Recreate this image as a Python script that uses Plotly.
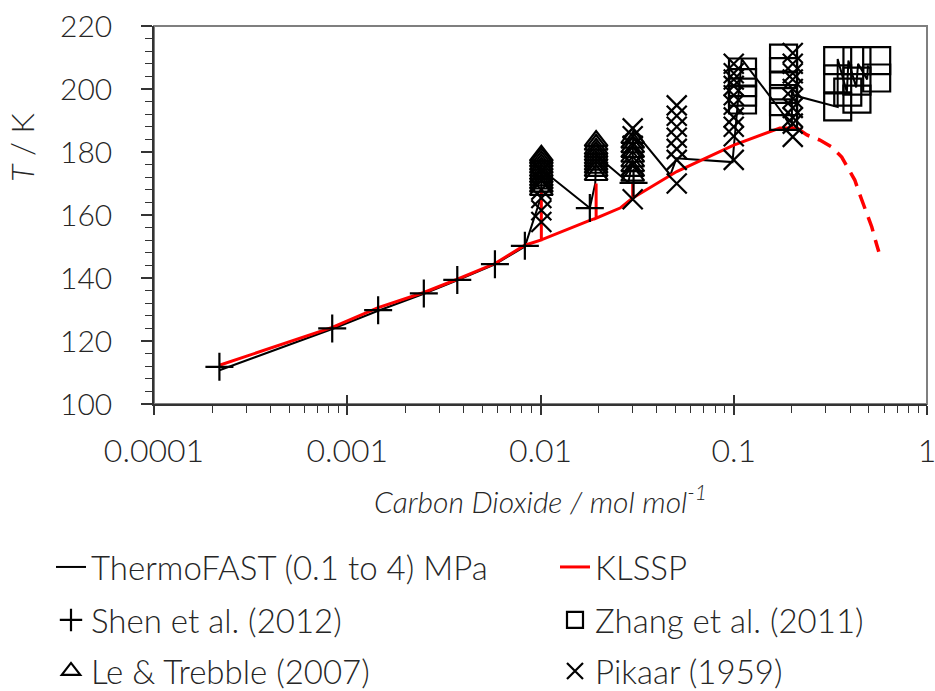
import plotly.graph_objects as go

# ---------------- data ----------------
# ThermoFAST (0.1 to 4) MPa calculated line
tf_x = [0.000218, 0.000836, 0.001445, 0.00249, 0.00371, 0.00581, 0.0083,
        0.0101, 0.0101, 0.0180, 0.0192, 0.0194, 0.0285, 0.0300, 0.0302,
        0.0470, 0.0505, 0.0985, 0.103, 0.110, 0.177, 0.200, 0.200, 0.205,
        0.345, 0.345, 0.385, 0.392, 0.430, 0.440, 0.490, 0.495]
tf_y = [110.7, 123.8, 129.6, 135.0, 139.3, 144.3, 150.0,
        166.0, 174.5, 162.2, 170.0, 179.0, 170.3, 178.0, 187.0,
        172.7, 178.0, 176.8, 190.0, 209.5, 192.7, 187.5, 200.0, 198.0,
        194.3, 209.5, 199.0, 209.0, 200.5, 208.0, 203.0, 207.5]

# KLSSP (solid part)
kl_x = [0.000218, 0.000836, 0.001445, 0.00249, 0.00371, 0.00581, 0.0083,
        0.0101, 0.0101, 0.0101, 0.0180, 0.0194, 0.0194, 0.0194, 0.0258,
        0.0300, 0.0300, 0.0300, 0.0507, 0.100, 0.173, 0.212]
kl_y = [112.3, 124.3, 130.6, 135.4, 139.6, 144.6, 150.4,
        152.1, 168.5, 152.1, 158.3, 159.0, 170.0, 159.0, 162.2,
        165.4, 170.5, 165.4, 173.8, 182.2, 187.6, 187.6]
# KLSSP (dashed extrapolation)
kld_x = [0.212, 0.239, 0.279, 0.321, 0.362, 0.389, 0.423, 0.444, 0.471,
         0.494, 0.518, 0.544, 0.563]
kld_y = [187.6, 185.4, 183.8, 181.6, 178.4, 174.9, 171.1, 167.3, 163.2,
         159.4, 156.2, 151.4, 148.3]

# Shen et al. (2012)
shen_x = [0.000218, 0.000836, 0.001445, 0.00249, 0.00371, 0.00581, 0.0083,
          0.0180, 0.0303]
shen_y = [111.8, 124.0, 129.8, 135.1, 139.4, 144.4, 150.2, 162.2, 170.2]

# Zhang et al. (2011)
zhang_x = [0.111, 0.111, 0.111, 0.111,
           0.181, 0.181, 0.181, 0.181, 0.181,
           0.345, 0.345, 0.345, 0.434, 0.434, 0.434, 0.549, 0.549, 0.389]
zhang_y = [205.4, 202.0, 199.0, 196.5,
           209.8, 205.5, 201.0, 196.0, 191.3,
           209.0, 203.2, 194.3, 209.0, 202.5, 196.8, 209.0, 203.5, 199.0]

# Le & Trebble (2007)
le_x = [0.0101] * 12 + [0.0194] * 11 + [0.0300] * 9
le_y = [168.0, 169.0, 170.0, 171.0, 172.0, 173.0, 174.0, 175.0, 176.0, 177.0, 178.0, 178.8,
        172.7, 174.0, 175.0, 176.0, 177.0, 178.0, 179.0, 180.0, 181.0, 182.3, 183.5,
        172.5, 174.0, 175.5, 177.0, 178.5, 180.0, 181.5, 183.0, 184.5]

# Pikaar (1959)
pk_x = ([0.0101] * 6 + [0.0300] * 5 + [0.0507] * 7 + [0.100] * 10 + [0.202] * 10)
pk_y = ([157.8, 161.5, 165.4, 168.0, 171.0, 174.0,
         165.0, 176.0, 182.0, 185.0, 187.5,
         170.0, 177.5, 181.0, 184.5, 188.0, 191.5, 194.8,
         177.5, 185.0, 188.0, 191.0, 195.0, 198.0, 201.0, 203.0, 205.0, 208.0,
         184.8, 189.0, 191.0, 194.0, 197.0, 200.0, 203.0, 205.0, 208.0, 211.4])

x_tickvals = [0.0001, 0.001, 0.01, 0.1, 1]
x_ticktext = ["0.0001", "0.001", "0.01", "0.1", "1"]
y_tickvals = [100, 120, 140, 160, 180, 200, 220]

FONT = "Lato"
TXT = "#262626"
W = 300

fig = go.Figure()

fig.add_trace(go.Scatter(x=tf_x, y=tf_y, mode="lines", name="ThermoFAST (0.1 to 4) MPa",
                         line=dict(color="black", width=2), legend="legend"))
fig.add_trace(go.Scatter(x=kl_x, y=kl_y, mode="lines", name="KLSSP",
                         line=dict(color="#ff0000", width=3), legend="legend2"))
fig.add_trace(go.Scatter(x=kld_x, y=kld_y, mode="lines", name="KLSSP ext",
                         line=dict(color="#ff0000", width=3.5, dash="15px,9px"),
                         showlegend=False))

mk = dict(color="black", line=dict(color="black", width=2.2))
fig.add_trace(go.Scatter(x=shen_x, y=shen_y, mode="markers", name="Shen et al. (2012)",
                         marker=dict(symbol="cross-thin", size=20, **mk), legend="legend3"))
fig.add_trace(go.Scatter(x=zhang_x, y=zhang_y, mode="markers", name="Zhang et al. (2011)",
                         marker=dict(symbol="square-open", size=27, **mk), legend="legend4"))
fig.add_trace(go.Scatter(x=le_x, y=le_y, mode="markers", name="Le &amp; Trebble (2007)",
                         marker=dict(symbol="triangle-up-open", size=20, **mk), legend="legend5"))
fig.add_trace(go.Scatter(x=pk_x, y=pk_y, mode="markers", name="Pikaar (1959)",
                         marker=dict(symbol="x-thin", size=20, **mk), legend="legend6"))

# helper axis for the inside half of the crossing major x ticks
fig.add_trace(go.Scatter(x=[0.001], y=[50], xaxis="x2", mode="markers",
                         marker=dict(opacity=0), showlegend=False, hoverinfo="skip"))

axis_col = "#333333"
fig.update_layout(
    width=935, height=691,
    margin=dict(l=154, r=8, t=26, b=287, autoexpand=False),
    paper_bgcolor="white", plot_bgcolor="white",
    font=dict(family=FONT, size=32, color=TXT, weight=W),
    xaxis=dict(type="log", range=[-4, 0], tickvals=x_tickvals, ticktext=x_ticktext,
               ticks="outside", ticklen=9, tickwidth=1.5, tickcolor=axis_col,
               showline=True, linecolor=axis_col, linewidth=1.5,
               showgrid=False, zeroline=False, ticklabelstandoff=9,
               ticklabeloverflow="allow",
               tickfont=dict(family=FONT, size=32, color=TXT, weight=W),
               minor=dict(ticks="outside", ticklen=7, tickwidth=1.2, tickcolor=axis_col,
                          dtick="D1", showgrid=False)),
    xaxis2=dict(type="log", range=[-4, 0], overlaying="x", anchor="y", side="bottom",
                tickvals=x_tickvals, ticks="inside", ticklen=9, tickwidth=1.5,
                tickcolor=axis_col, showticklabels=False, showline=False,
                showgrid=False, zeroline=False),
    yaxis=dict(range=[100, 220], tickvals=y_tickvals,
               ticks="outside", ticklen=11, tickwidth=1.5, tickcolor=axis_col,
               showline=True, linecolor=axis_col, linewidth=1.5,
               showgrid=False, zeroline=False, ticklabelstandoff=23,
               tickfont=dict(family=FONT, size=30, color=TXT, weight=W),
               minor=dict(ticks="outside", ticklen=7, tickwidth=1.2, tickcolor=axis_col,
                          dtick=4, showgrid=False)),
    shapes=[dict(type="rect", xref="paper", yref="paper", x0=0, x1=1, y0=0, y1=1,
                 line=dict(color="#7f7f7f", width=2), layer="below")],
    annotations=[
        dict(text="<i>Carbon Dioxide / mol mol<sup>-1</sup></i>", xref="paper", yref="paper",
             x=0.5, y=-0.25, xanchor="center", yanchor="middle", showarrow=False,
             font=dict(family=FONT, size=30, color=TXT, weight=W)),
        dict(text="<i>T</i> / K", xref="paper", yref="paper", x=-0.171, y=0.68,
             xanchor="center", yanchor="middle", textangle=-90, showarrow=False,
             font=dict(family=FONT, size=32, color=TXT, weight=W)),
    ],
)

leg_common = dict(xanchor="left", yanchor="middle", xref="container", yref="container",
                  bgcolor="rgba(0,0,0,0)", borderwidth=0,
                  font=dict(family=FONT, size=33, color=TXT, weight=W))
def cx(px):
    return px / 935.0
def cy(py):
    return 1 - py / 691.0

fig.update_layout(
    legend=dict(x=cx(51), y=cy(567), **leg_common),
    legend2=dict(x=cx(555), y=cy(567), **leg_common),
    legend3=dict(x=cx(51), y=cy(620), **leg_common),
    legend4=dict(x=cx(555), y=cy(620), **leg_common),
    legend5=dict(x=cx(51), y=cy(671), **leg_common),
    legend6=dict(x=cx(555), y=cy(671), **leg_common),
)

fig.write_html("out.html")
